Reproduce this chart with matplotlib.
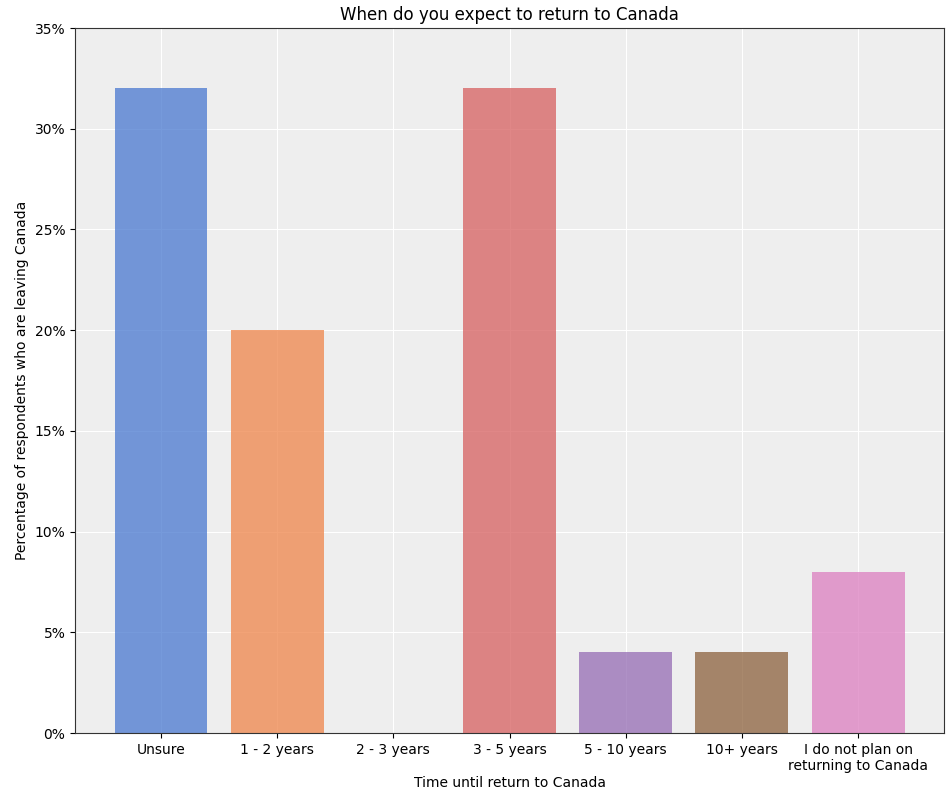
import matplotlib.pyplot as plt
from matplotlib.ticker import PercentFormatter

categories = ["Unsure", "1 - 2 years", "2 - 3 years", "3 - 5 years",
              "5 - 10 years", "10+ years", "I do not plan on\nreturning to Canada"]
percentages = [32, 20, 0, 32, 4, 4, 8]
colors = ["#4878d0", "#ee854a", "#6acc64", "#d65f5f", "#956cb4", "#8c613c", "#dc7ec0"]

fig, ax = plt.subplots(figsize=(9.5, 7.94), dpi=100)
fig.subplots_adjust(left=0.079, right=0.9937, bottom=0.0768, top=0.9647)

ax.set_facecolor("#eeeeee")
ax.grid(True, color="white", linewidth=0.8)
ax.set_axisbelow(True)

ax.bar(range(len(categories)), percentages, color=colors, alpha=0.75, width=0.8)

ax.set_xticks(range(len(categories)))
ax.set_xticklabels(categories)
ax.set_ylim(0, 35)
ax.set_yticks(range(0, 36, 5))
ax.yaxis.set_major_formatter(PercentFormatter(decimals=0))

for s in ax.spines.values():
    s.set_color("#333333")

ax.set_title("When do you expect to return to Canada")
ax.set_xlabel("Time until return to Canada", labelpad=2)
ax.set_ylabel("Percentage of respondents who are leaving Canada")

fig.savefig("out.png")
